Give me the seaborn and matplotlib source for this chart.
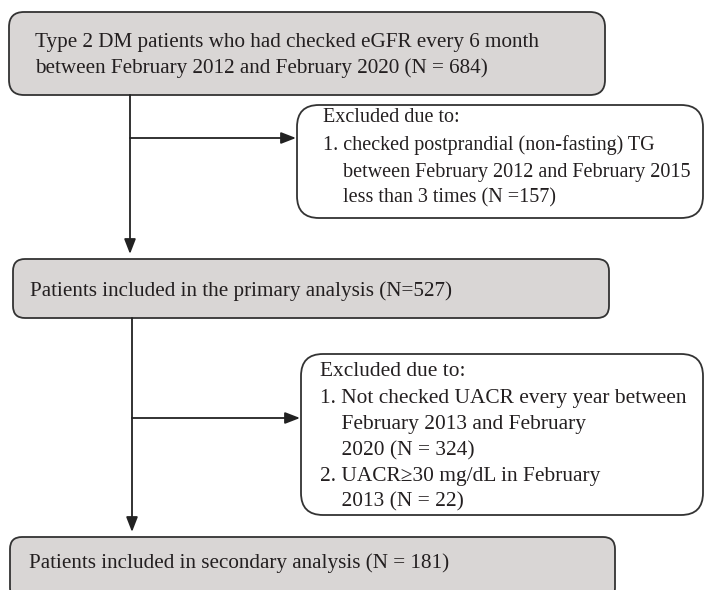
import matplotlib
matplotlib.use("Agg")
import matplotlib.pyplot as plt
from matplotlib.patches import FancyBboxPatch
import seaborn as sns

# counts shown in the flow chart
n_total = 684
n_excl_tg = 157
n_primary = 527
n_excl_uacr = 324
n_excl_albu = 22
n_secondary = 181

main_lines = ["Type 2 DM patients who had checked eGFR every 6 month",
              "between February 2012 and February 2020 (N = %d)" % n_total]
excl1_lines = ["Excluded due to:",
               "1. checked postprandial (non-fasting) TG",
               "    between February 2012 and February 2015",
               "    less than 3 times (N =%d)" % n_excl_tg]
primary_text = "Patients included in the primary analysis (N=%d)" % n_primary
excl2_lines = ["Excluded due to:",
               "1. Not checked UACR every year between",
               "    February 2013 and February",
               "    2020 (N = %d)" % n_excl_uacr,
               "2. UACR\u226530 mg/dL in February",
               "    2013 (N = %d)" % n_excl_albu]
secondary_text = "Patients included in secondary analysis (N = %d)" % n_secondary

sns.set_style("white")
plt.rcParams['font.family'] = ['Liberation Serif', 'DejaVu Serif']

fig = plt.figure(figsize=(7.04, 5.90), dpi=100)
ax = fig.add_axes([0, 0, 1, 1])
ax.set_xlim(0, 704)
ax.set_ylim(590, 0)
ax.axis("off")

gray = "#d9d6d5"
edge = "#333333"


def box(x0, y0, x1, y1, fill, r):
    p = FancyBboxPatch((x0, y0), x1 - x0, y1 - y0,
                       boxstyle="round,pad=0,rounding_size=%d" % r,
                       fc=fill, ec=edge, lw=1.3)
    ax.add_patch(p)


def lines(x, ys, txts, fs=15.2):
    for y, t in zip(ys, txts):
        ax.text(x, y, t, fontsize=fs, va="center", ha="left", color="#231f20")


def arrow(x0, y0, x1, y1):
    ax.annotate("", xy=(x1, y1), xytext=(x0, y0),
                arrowprops=dict(arrowstyle="-|>,head_length=0.9,head_width=0.35",
                                mutation_scale=10, lw=1.3, color="#222222",
                                shrinkA=0, shrinkB=0))


# boxes
box(9, 12, 605, 95, gray, 15)
box(297, 105, 703, 218, "white", 22)
box(13, 259, 609, 318, gray, 12)
box(301, 354, 703, 515, "white", 22)
box(10, 537, 615, 600, gray, 12)

# connectors
arrow(130, 95, 130, 254)
arrow(130, 138, 296, 138)
arrow(132, 318, 132, 532)
arrow(132, 418, 300, 418)

lines(35, [43, 68], main_lines)
lines(323, [118, 145, 172, 198], excl1_lines, fs=14.5)
lines(30, [291], [primary_text])
lines(320, [372, 399, 425, 451, 477, 502], excl2_lines, fs=15.4)
lines(29, [563], [secondary_text])

fig.savefig("out.png", dpi=100)
